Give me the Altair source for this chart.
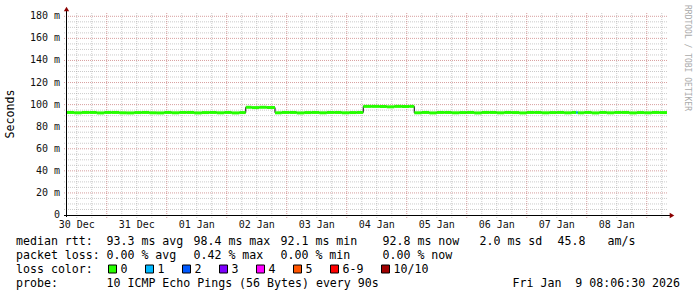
import altair as alt
import pandas as pd

# ---------------- data ----------------
day_labels = ["30 Dec", "31 Dec", "01 Jan", "02 Jan", "03 Jan",
              "04 Jan", "05 Jan", "06 Jan", "07 Jan", "08 Jan"]
day_label_hours = [12, 36, 60, 84, 108, 132, 156, 180, 204, 228]  # noon, hours after 30 Dec 00:00
t_start, t_end = 8.1, 248.1

y_ticks = [0, 20, 40, 60, 80, 100, 120, 140, 160, 180]

# median rtt segments (start hour, value in ms, lost pings)
seg_start = [8.1, 11, 14, 17, 20, 23, 26, 29, 32, 35, 38, 41, 44, 47, 50, 53, 56, 59, 62, 65, 68, 71, 74, 77,
             79.6, 82, 85, 88,
             91.3, 94, 97, 100, 103, 106, 109, 112, 115, 118, 121, 124,
             126.6, 130, 133, 136, 139, 142, 145,
             147, 150, 153, 156, 159, 162, 165, 168, 171, 174, 177, 180, 183, 186, 189, 192, 195, 198,
             201, 204, 207, 210, 211.8, 212.4, 215, 218, 221, 224, 227, 230, 233, 236, 239, 242, 245]
seg_rtt = [92.9, 92.6, 92.9, 92.9, 92.5, 92.9, 92.9, 92.6, 92.5, 92.8, 92.9, 92.6, 92.5, 92.9, 92.6, 92.9,
           92.9, 92.5, 92.8, 92.9, 92.6, 92.9, 92.5, 92.8,
           97.6, 97.3, 97.6, 97.4,
           92.6, 92.9, 92.9, 92.5, 92.8, 92.9, 92.6, 92.9, 92.9, 92.6, 92.8, 92.9,
           98.4, 98.4, 98.3, 98.0, 98.4, 98.3, 98.4,
           92.6, 92.9, 92.5, 92.9, 92.9, 92.6, 92.8, 92.9, 92.5, 92.9, 92.9, 92.6, 92.9, 92.8, 92.5,
           92.9, 92.9, 92.6, 92.8, 92.9, 92.6, 92.9, 92.9, 92.6, 92.9, 92.5, 92.9, 92.6, 92.9, 92.9,
           92.5, 92.8, 92.6, 92.9, 92.8]
seg_loss = [0, 0, 0, 0, 0, 0, 0, 0, 0, 0, 0, 0, 0, 0, 0, 0, 0, 0, 0, 0, 0, 0, 0, 0,
            0, 0, 0, 0,
            0, 0, 0, 0, 0, 0, 0, 0, 0, 0, 0, 0,
            0, 0, 0, 0, 0, 0, 0,
            0, 0, 0, 0, 0, 0, 0, 0, 0, 0, 0, 0, 0, 0, 0, 0, 0, 0,
            0, 0, 0, 0, 1, 0, 0, 0, 0, 0, 0, 0, 0, 0, 0, 0, 0]

loss_labels = ["0", "1", "2", "3", "4", "5", "6-9", "10/10"]
loss_colors = ["#26ff00", "#00b8ff", "#0059ff", "#7e00ff", "#ff00ff", "#ff5500", "#ff0000", "#a10000"]

stats_rtt = [("median rtt:", 16), ("93.3 ms avg", 106.5), ("98.4 ms max", 193.5), ("92.1 ms min", 280.5),
             ("92.8 ms now", 382.5), ("2.0 ms sd", 479.5), ("45.8", 557.5), ("am/s", 607.5)]
stats_loss = [("packet loss:", 16), ("0.00 % avg", 106.5), ("0.42 % max", 193.5), ("0.00 % min", 280.5),
              ("0.00 % now", 382.5)]
probe_line = [("probe:", 16), ("10 ICMP Echo Pings (56 Bytes) every 90s", 106.5),
              ("Fri Jan  9 08:06:30 2026", 512.5)]

# ---------------- layout ----------------
L, T = 67, 13          # plot origin in page pixels
W, H = 600, 202
MONO = "DejaVu Sans Mono"
NB = "\u00a0"

xs = alt.Scale(domain=[t_start, t_end], nice=False, zero=False)
ys = alt.Scale(domain=[0, 183], nice=False, zero=True)

seg_end = seg_start[1:] + [t_end]
seg_df = pd.DataFrame({"h0": seg_start, "h1": seg_end, "rtt": seg_rtt,
                       "loss": [str(v) for v in seg_loss]})
step_df = pd.DataFrame({"h": seg_start + [t_end], "rtt": seg_rtt + [seg_rtt[-1]]})

hmin = pd.DataFrame({"v": [v for v in range(5, 181, 5) if v % 20]})
hmaj = pd.DataFrame({"v": [v for v in y_ticks if v > 0]})
vmin = pd.DataFrame({"h": [h for h in range(12, 248, 6) if h % 24]})
vmaj = pd.DataFrame({"h": list(range(24, 241, 24))})

grid_minor_col = "#8c8c8c"
grid_major_col = "#b04040"

g1 = alt.Chart(hmin).mark_rule(stroke=grid_minor_col, strokeOpacity=0.45, strokeDash=[1, 1], strokeWidth=1).encode(
    y=alt.Y("v:Q", scale=ys, axis=None), x=alt.value(-3), x2=alt.value(W + 1))
g2 = alt.Chart(vmin).mark_rule(stroke=grid_minor_col, strokeOpacity=0.45, strokeDash=[1, 1], strokeWidth=1).encode(
    x=alt.X("h:Q", scale=xs, axis=None), y=alt.value(0), y2=alt.value(H + 3))
g3 = alt.Chart(hmaj).mark_rule(stroke=grid_major_col, strokeOpacity=0.5, strokeDash=[1, 1], strokeWidth=1).encode(
    y=alt.Y("v:Q", scale=ys, axis=None), x=alt.value(-3), x2=alt.value(W + 1))
g4 = alt.Chart(vmaj).mark_rule(stroke=grid_major_col, strokeOpacity=0.5, strokeDash=[1, 1], strokeWidth=1).encode(
    x=alt.X("h:Q", scale=xs, axis=None), y=alt.value(0), y2=alt.value(H + 3))

step_line = alt.Chart(step_df).mark_line(interpolate="step-after", color="#000000", strokeWidth=1).encode(
    x=alt.X("h:Q", scale=xs, axis=None), y=alt.Y("rtt:Q", scale=ys, axis=None))

median = alt.Chart(seg_df).mark_rule(strokeWidth=3).encode(
    x=alt.X("h0:Q", scale=xs, axis=None), x2="h1:Q",
    y=alt.Y("rtt:Q", scale=ys, axis=None),
    color=alt.Color("loss:N", scale=alt.Scale(domain=["0", "1"], range=[loss_colors[0], loss_colors[1]]),
                    legend=None))

one = pd.DataFrame({"k": [0]})
xaxis = alt.Chart(one).mark_rule(color="#000000", strokeWidth=1).encode(
    x=alt.value(-3), x2=alt.value(W + 3), y=alt.value(H + 0.5))
yaxis = alt.Chart(one).mark_rule(color="#000000", strokeWidth=1).encode(
    x=alt.value(-0.5), y=alt.value(-3), y2=alt.value(H + 2))
arrow_up = alt.Chart(one).mark_point(shape="triangle-up", filled=True, size=28, color="#8b0000", opacity=1).encode(
    x=alt.value(-0.5), y=alt.value(-4))
arrow_right = alt.Chart(one).mark_point(shape="triangle-right", filled=True, size=28, color="#8b0000", opacity=1).encode(
    x=alt.value(W + 5), y=alt.value(H + 0.5))

ylab_df = pd.DataFrame({"v": y_ticks,
                        "t": [("0" + NB) if v == 0 else f"{v}{NB}m" for v in y_ticks]})
ylabels = alt.Chart(ylab_df).mark_text(font=MONO, fontSize=10, align="right", baseline="middle", color="#111111").encode(
    y=alt.Y("v:Q", scale=ys, axis=None), x=alt.value(-7), text="t:N")

xlab_df = pd.DataFrame({"h": day_label_hours, "t": [s.replace(" ", NB) for s in day_labels]})
xlabels = alt.Chart(xlab_df).mark_text(font=MONO, fontSize=10, align="center", baseline="alphabetic", color="#111111").encode(
    x=alt.X("h:Q", scale=xs, axis=None), y=alt.value(227.5 - T), text="t:N")

# legend / footer texts in page pixels
rows = []
for text, px in stats_rtt:
    rows.append({"t": text.replace(" ", NB), "x": px - L, "y": 245 - T})
for text, px in stats_loss:
    rows.append({"t": text.replace(" ", NB), "x": px - L, "y": 259 - T})
rows.append({"t": "loss" + NB + "color:", "x": 16 - L, "y": 272.7 - T})
for text, px in probe_line:
    rows.append({"t": text.replace(" ", NB), "x": px - L, "y": 286.5 - T})

sq_rows = []
cursor = 108.5
for lab, col in zip(loss_labels, loss_colors):
    sq_rows.append({"x": cursor - L, "x2": cursor + 8 - L, "y": 265 - T, "y2": 273 - T, "c": col})
    lx = cursor + 12
    rows.append({"t": lab, "x": lx - L, "y": 272.7 - T})
    cursor = lx + 7 * len(lab) + 18

foot_df = pd.DataFrame(rows)
footer = alt.Chart(foot_df).mark_text(font=MONO, fontSize=11.6, align="left", baseline="alphabetic", color="#000000").encode(
    x=alt.X("x:Q", scale=None, axis=None), y=alt.Y("y:Q", scale=None, axis=None), text="t:N")

sq_df = pd.DataFrame(sq_rows)
squares = alt.Chart(sq_df).mark_rect(stroke="#000000", strokeWidth=1).encode(
    x=alt.X("x:Q", scale=None, axis=None), x2="x2:Q",
    y=alt.Y("y:Q", scale=None, axis=None), y2="y2:Q",
    fill=alt.Fill("c:N", scale=None))

ytitle = alt.Chart(one).mark_text(text="Seconds", font=MONO, fontSize=11.6, angle=270, align="center",
                                  baseline="middle", color="#000000").encode(
    x=alt.value(11 - L), y=alt.value(114 - T))
watermark = alt.Chart(one).mark_text(text="RRDTOOL" + NB + "/" + NB + "TOBI" + NB + "OETIKER", font=MONO, fontSize=8,
                                     angle=90, align="left", baseline="middle", color="#aaaaaa").encode(
    x=alt.value(687 - L), y=alt.value(5 - T))

chart = alt.layer(
    g1, g2, g3, g4, step_line, median, xaxis, yaxis, arrow_up, arrow_right,
    ylabels, xlabels, footer, squares, ytitle, watermark
).resolve_scale(
    x="independent", y="independent", color="independent", fill="independent"
).properties(
    width=W, height=H,
    autosize=alt.AutoSizeParams(type="none"),
    padding={"left": L, "top": T, "right": 697 - L - W, "bottom": 297 - T - H},
    background="#ffffff",
).configure_view(stroke=None)

chart.save("out.html", embed_options={"renderer": "svg", "actions": False})
